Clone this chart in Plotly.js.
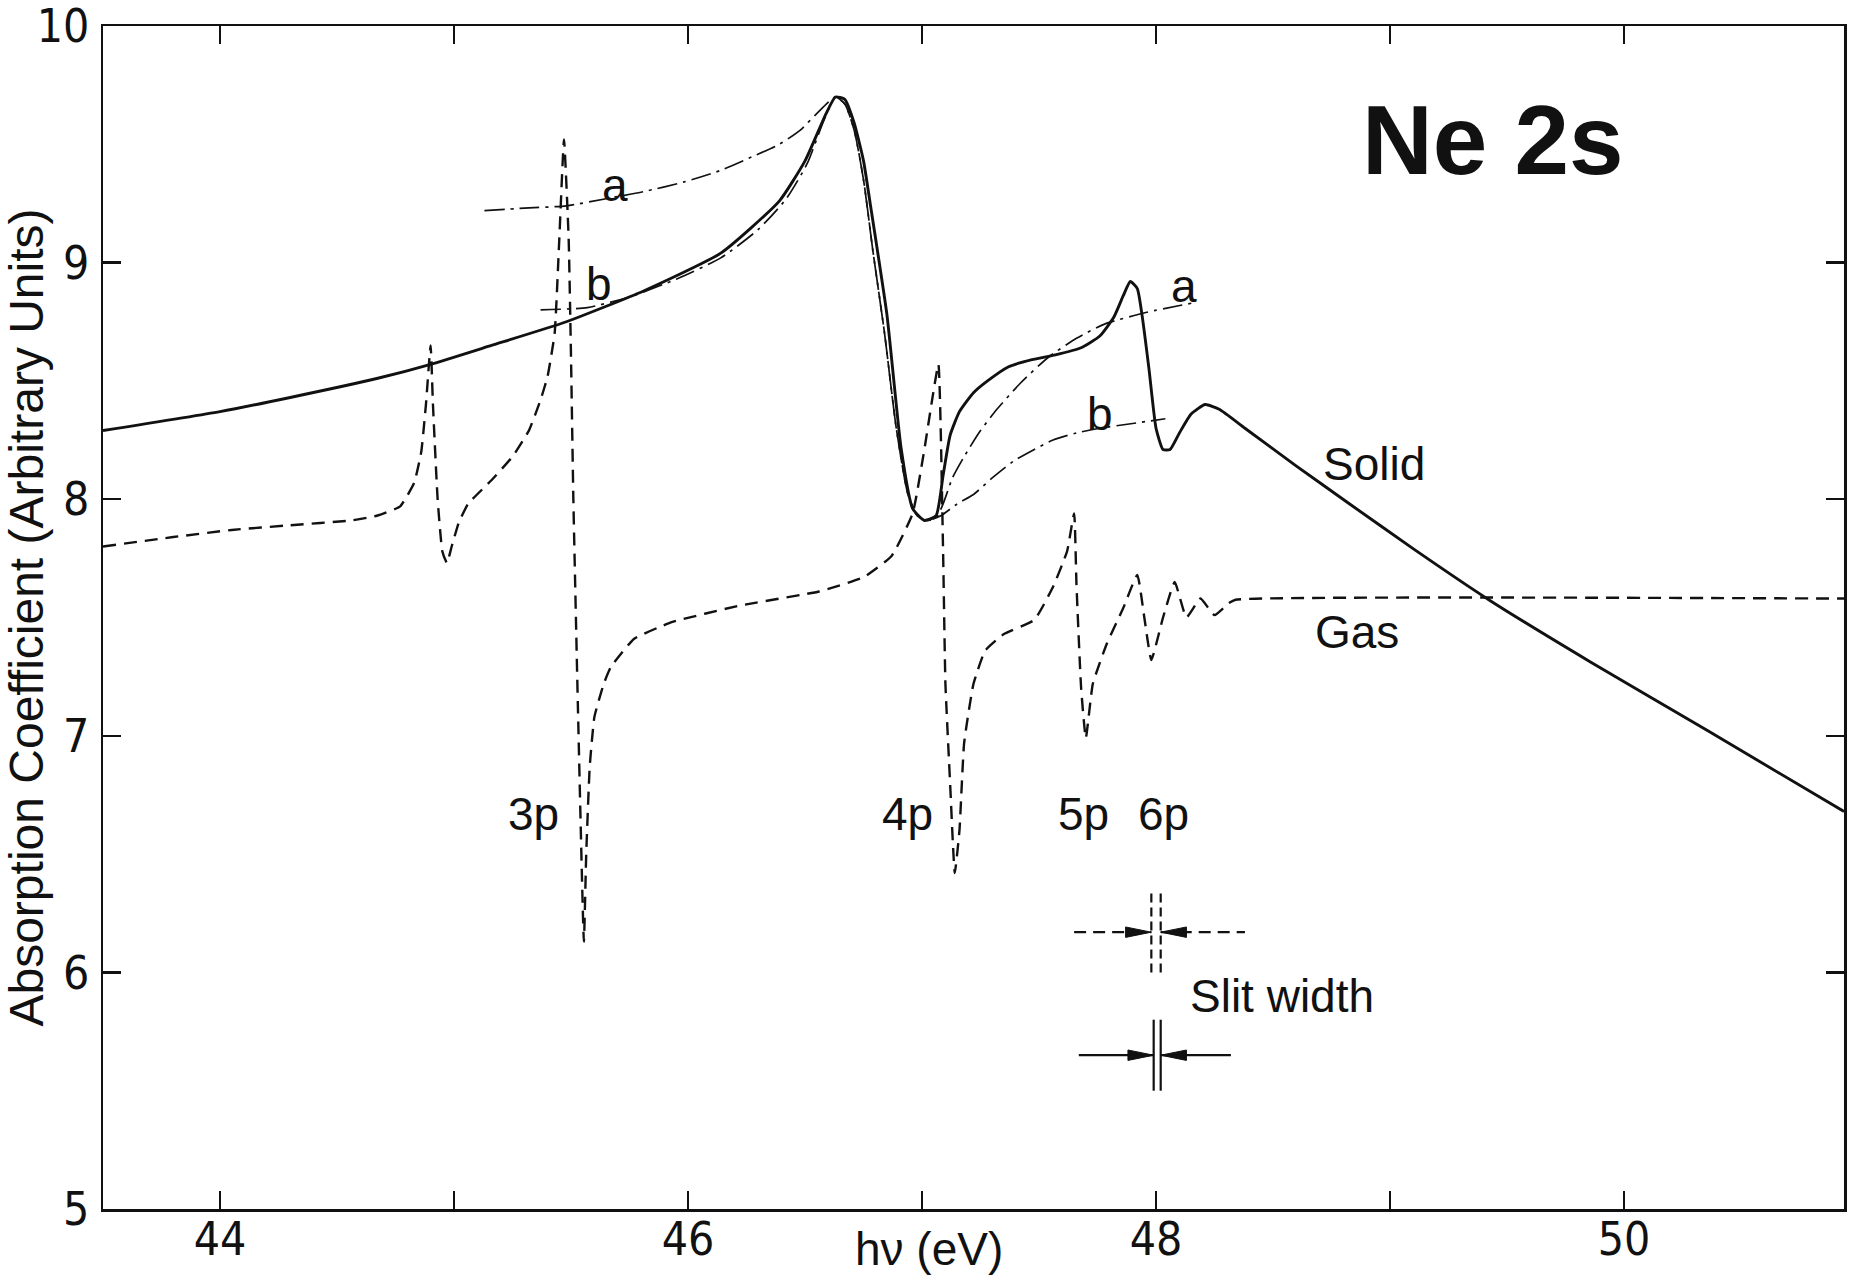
<!DOCTYPE html>
<html>
<head>
<meta charset="utf-8">
<script src="https://cdn.plot.ly/plotly-3.0.1.min.js"></script>
<style>
html, body { margin: 0; padding: 0; background: #ffffff; }
#chart { width: 1850px; height: 1278px; }
</style>
</head>
<body>
<div id="chart"></div>
<script>
// ---- Data (photon energy hv in eV, absorption coefficient in arbitrary units) ----
const solidX = [43.50, 44.00, 44.30, 44.67, 44.90, 45.16, 45.48, 45.81, 46.14, 46.39, 46.50, 46.59, 46.63, 46.67, 46.71, 46.75, 46.78, 46.85, 46.91, 46.96, 47.01, 47.06, 47.09, 47.12, 47.16, 47.22, 47.28, 47.37, 47.47, 47.57, 47.68, 47.76, 47.82, 47.86, 47.89, 47.92, 47.94, 47.97, 48.00, 48.03, 48.06, 48.10, 48.15, 48.21, 48.27, 48.38, 48.60, 48.82, 49.10, 49.43, 49.86, 50.36, 50.94];
const solidY = [8.29, 8.37, 8.43, 8.51, 8.57, 8.65, 8.75, 8.88, 9.04, 9.26, 9.43, 9.63, 9.70, 9.69, 9.59, 9.43, 9.24, 8.78, 8.22, 7.96, 7.91, 7.93, 8.10, 8.27, 8.37, 8.45, 8.50, 8.56, 8.59, 8.61, 8.64, 8.69, 8.77, 8.86, 8.92, 8.89, 8.78, 8.55, 8.30, 8.21, 8.21, 8.28, 8.36, 8.40, 8.38, 8.30, 8.14, 7.985, 7.79, 7.57, 7.31, 7.02, 6.68];

const gasX = [43.50, 43.80, 44.05, 44.30, 44.56, 44.67, 44.77, 44.83, 44.86, 44.88, 44.90, 44.91, 44.93, 44.95, 44.97, 44.99, 45.02, 45.06, 45.16, 45.25, 45.32, 45.37, 45.40, 45.43, 45.45, 45.47, 45.49, 45.50, 45.51, 45.53, 45.555, 45.565, 45.58, 45.60, 45.64, 45.67, 45.77, 45.93, 46.22, 46.56, 46.75, 46.87, 46.96, 47.01, 47.04, 47.07, 47.09, 47.10, 47.12, 47.14, 47.16, 47.18, 47.22, 47.27, 47.35, 47.48, 47.56, 47.62, 47.65, 47.66, 47.68, 47.70, 47.73, 47.79, 47.86, 47.92, 47.95, 47.98, 48.03, 48.08, 48.13, 48.19, 48.25, 48.31, 48.34, 50.94];
const gasY = [7.80, 7.84, 7.87, 7.89, 7.91, 7.93, 7.97, 8.07, 8.20, 8.40, 8.65, 8.40, 8.00, 7.78, 7.73, 7.80, 7.90, 7.98, 8.08, 8.18, 8.29, 8.42, 8.52, 8.70, 9.10, 9.52, 9.10, 8.60, 8.00, 7.10, 6.13, 6.50, 6.87, 7.08, 7.22, 7.29, 7.41, 7.48, 7.55, 7.61, 7.67, 7.76, 7.94, 8.21, 8.40, 8.57, 7.78, 7.22, 6.80, 6.42, 6.60, 6.97, 7.22, 7.36, 7.43, 7.49, 7.63, 7.78, 7.94, 7.64, 7.20, 6.99, 7.22, 7.39, 7.54, 7.68, 7.50, 7.32, 7.50, 7.65, 7.50, 7.58, 7.51, 7.56, 7.575, 7.58];

const fitAX = [45.13, 45.30, 45.48, 45.65, 45.81, 45.98, 46.14, 46.28, 46.39, 46.48, 46.55, 46.63, 46.67, 46.71, 46.75, 46.79, 46.84, 46.89, 46.94, 46.98, 47.02, 47.06, 47.09, 47.13, 47.18, 47.25, 47.32, 47.42, 47.54, 47.66, 47.78, 47.96, 48.16];
const fitAY = [9.22, 9.23, 9.24, 9.27, 9.30, 9.34, 9.39, 9.45, 9.50, 9.56, 9.63, 9.70, 9.67, 9.56, 9.35, 9.05, 8.70, 8.30, 8.02, 7.93, 7.91, 7.92, 7.98, 8.09, 8.18, 8.29, 8.38, 8.49, 8.60, 8.68, 8.74, 8.79, 8.83];

const fitBX = [45.37, 45.57, 45.75, 45.95, 46.14, 46.30, 46.42, 46.51, 46.58, 46.63, 46.67, 46.71, 46.75, 46.79, 46.84, 46.89, 46.94, 46.98, 47.02, 47.08, 47.15, 47.22, 47.30, 47.39, 47.48, 47.56, 47.66, 47.76, 47.90, 48.04];
const fitBY = [8.80, 8.81, 8.855, 8.93, 9.02, 9.14, 9.27, 9.42, 9.60, 9.70, 9.67, 9.56, 9.35, 9.05, 8.70, 8.30, 8.02, 7.93, 7.91, 7.93, 7.98, 8.02, 8.09, 8.16, 8.21, 8.25, 8.28, 8.30, 8.32, 8.34];

const xTickVals = [44, 45, 46, 47, 48, 49, 50];
const xTickText = ['44', '', '46', '', '48', '', '50'];
const yTickVals = [5, 6, 7, 8, 9, 10];
const yTickText = ['5', '6', '7', '8', '9', '10'];

// Slit-width indicators: edges of the slit (eV) for gas and solid measurements
const slitGasEdges = [47.98, 48.02];
const slitSolidEdges = [47.99, 48.02];

// Text labels (data coordinates)
const labelText = ['a', 'b', 'a', 'b', 'Solid', 'Gas', '3p', '4p', '5p', '6p', 'Slit width'];
const labelX = [45.69, 45.62, 48.12, 47.76, 48.93, 48.86, 45.34, 46.94, 47.69, 48.03, 48.54];
const labelY = [9.33, 8.91, 8.90, 8.36, 8.15, 7.44, 6.67, 6.67, 6.67, 6.67, 5.90];

// ---- Styling ----
const INK = '#111111';
const textFont = 'Liberation Sans, Arial, sans-serif';
const tickFont = 'Liberation Sans Narrow, DejaVu Sans Condensed, Liberation Sans, sans-serif';

const traces = [];
traces.push({x: fitAX, y: fitAY, mode: 'lines', name: 'a', hoverinfo: 'skip',
  line: {color: INK, width: 1.7, dash: '20px,6px,3px,6px', shape: 'spline', smoothing: 0.6}});
traces.push({x: fitBX, y: fitBY, mode: 'lines', name: 'b', hoverinfo: 'skip',
  line: {color: INK, width: 1.7, dash: '20px,6px,3px,6px', shape: 'spline', smoothing: 0.6}});
traces.push({x: gasX, y: gasY, mode: 'lines', name: 'Gas',
  line: {color: INK, width: 2.4, dash: '13px,8px', shape: 'spline', smoothing: 0.4}});
traces.push({x: solidX, y: solidY, mode: 'lines', name: 'Solid',
  line: {color: INK, width: 2.9, shape: 'spline', smoothing: 0.5}});

// Slit width markers (built from the slit edge arrays)
function slitMarker(edges, yc, yHalf, xLeft, xRight, dash) {
  const [e0, e1] = edges;
  const style = {color: INK, width: 2.2};
  const vstyle = {color: INK, width: 2.2};
  if (dash) { style.dash = '12px,7px'; vstyle.dash = '9px,5px'; }
  traces.push({x: [e0, e0], y: [yc - yHalf, yc + yHalf], mode: 'lines', line: vstyle, hoverinfo: 'skip'});
  traces.push({x: [e1, e1], y: [yc - yHalf, yc + yHalf], mode: 'lines', line: vstyle, hoverinfo: 'skip'});
  traces.push({x: [xLeft, e0], y: [yc, yc], mode: 'lines', line: style, hoverinfo: 'skip'});
  traces.push({x: [e1, xRight], y: [yc, yc], mode: 'lines', line: style, hoverinfo: 'skip'});
  const L = 0.11, H = 0.022;
  traces.push({x: [e0, e0 - L, e0 - L, e0], y: [yc, yc + H, yc - H, yc], mode: 'lines', fill: 'toself',
    fillcolor: INK, line: {color: INK, width: 1}, hoverinfo: 'skip'});
  traces.push({x: [e1, e1 + L, e1 + L, e1], y: [yc, yc + H, yc - H, yc], mode: 'lines', fill: 'toself',
    fillcolor: INK, line: {color: INK, width: 1}, hoverinfo: 'skip'});
}
slitMarker(slitGasEdges, 6.17, 0.17, 47.65, 48.38, true);
slitMarker(slitSolidEdges, 5.65, 0.15, 47.67, 48.32, false);

const annotations = labelText.map((t, i) => ({
  x: labelX[i], y: labelY[i], xref: 'x', yref: 'y', text: t, showarrow: false,
  xanchor: 'center', yanchor: 'middle', font: {family: textFont, size: 46, color: INK}
}));
annotations.push({x: 49.44, y: 9.52, xref: 'x', yref: 'y', text: '<b>Ne 2s</b>', showarrow: false,
  xanchor: 'center', yanchor: 'middle', font: {family: textFont, size: 98, color: INK}});
annotations.push({x: 47.03, y: -0.034, xref: 'x', yref: 'paper', text: 'hν (eV)', showarrow: false,
  xanchor: 'center', yanchor: 'middle', font: {family: textFont, size: 46, color: INK}});

const axisCommon = {
  showgrid: false, zeroline: false, showline: true, linecolor: INK, linewidth: 2.5,
  mirror: 'ticks', ticks: 'inside', ticklen: 18, tickwidth: 2.5, tickcolor: INK,
  ticklabeloverflow: 'allow',
  tickfont: {family: tickFont, size: 46, color: INK}
};

const layout = {
  width: 1850, height: 1278,
  paper_bgcolor: '#ffffff', plot_bgcolor: '#ffffff',
  margin: {l: 103, r: 6, t: 26, b: 69},
  showlegend: false,
  xaxis: Object.assign({}, axisCommon, {
    range: [43.5, 50.94], tickmode: 'array', tickvals: xTickVals, ticktext: xTickText,
    ticklabelstandoff: -12
  }),
  yaxis: Object.assign({}, axisCommon, {
    range: [5, 10], tickmode: 'array', tickvals: yTickVals, ticktext: yTickText,
    ticklabelstandoff: 2,
    title: {text: 'Absorption Coefficient (Arbitrary Units)', standoff: 2,
      font: {family: textFont, size: 48, color: INK}}
  }),
  annotations: annotations
};

Plotly.newPlot('chart', traces, layout, {staticPlot: true, displayModeBar: false});
</script>
</body>
</html>
